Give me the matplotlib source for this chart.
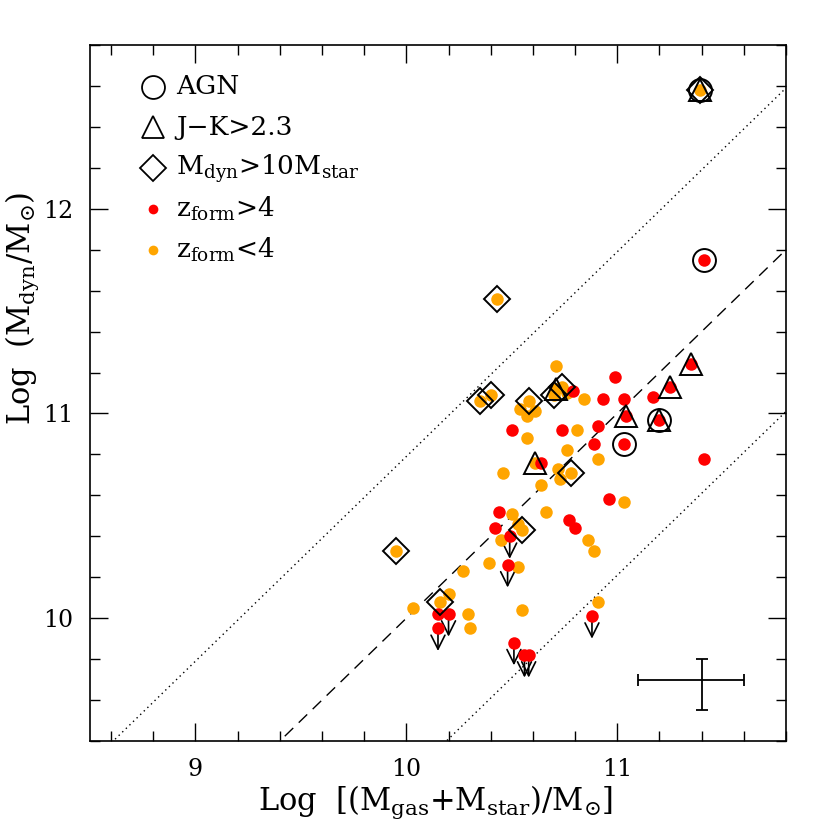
import matplotlib
matplotlib.use("Agg")
import matplotlib.pyplot as plt
from matplotlib.ticker import MultipleLocator

plt.rcParams['font.family'] = ['DejaVu Serif']
plt.rcParams['mathtext.fontset'] = 'dejavuserif'

# z_form > 4 (red)
red_x = [11.41, 10.99, 11.35, 11.25, 11.17, 11.03, 10.93, 10.79, 11.04, 11.20,
         10.91, 10.74, 10.50, 11.03, 10.89, 11.41, 10.64, 10.96, 10.44, 10.77,
         10.80, 10.42, 10.49, 10.48, 10.15, 10.20, 10.15, 10.88, 10.51, 10.56, 10.58]
red_y = [11.75, 11.18, 11.24, 11.13, 11.08, 11.07, 11.07, 11.11, 10.99, 10.97,
         10.94, 10.92, 10.92, 10.85, 10.85, 10.78, 10.76, 10.58, 10.52, 10.48,
         10.44, 10.44, 10.40, 10.26, 10.02, 10.02, 9.95, 10.01, 9.88, 9.82, 9.82]
red_ul = [0, 0, 0, 0, 0, 0, 0, 0, 0, 0,
          0, 0, 0, 0, 0, 0, 0, 0, 0, 0,
          0, 0, 1, 1, 0, 1, 1, 1, 1, 1, 1]

# z_form < 4 (orange)
org_x = [11.39, 10.43, 10.71, 10.35, 10.40, 10.58, 10.54, 10.57, 10.61, 10.70,
         10.74, 10.76, 10.71, 10.84, 10.81, 10.57, 10.76, 10.91, 10.61, 10.46,
         10.72, 10.73, 10.78, 10.64, 11.03, 10.66, 10.50, 10.53, 10.55, 10.45,
         10.86, 10.89, 9.95, 10.39, 10.53, 10.27, 10.20, 10.16, 10.03, 10.29,
         10.30, 10.55, 10.91]
org_y = [12.58, 11.56, 11.23, 11.06, 11.09, 11.06, 11.02, 10.99, 11.01, 11.09,
         11.13, 11.10, 11.12, 11.07, 10.92, 10.88, 10.82, 10.78, 10.76, 10.71,
         10.73, 10.68, 10.71, 10.65, 10.57, 10.52, 10.51, 10.46, 10.43, 10.38,
         10.38, 10.33, 10.33, 10.27, 10.25, 10.23, 10.12, 10.08, 10.05, 10.02,
         9.95, 10.04, 10.08]

# flagged objects (open symbols)
agn_x = [11.41, 11.20, 11.03, 11.39]
agn_y = [11.75, 10.97, 10.85, 12.58]
jk_x = [11.35, 11.25, 11.04, 11.20, 11.39, 10.71, 10.61]
jk_y = [11.24, 11.13, 10.99, 10.97, 12.58, 11.12, 10.76]
dyn_x = [11.39, 10.43, 10.35, 10.40, 10.58, 10.70, 10.74, 10.78, 10.55, 9.95, 10.16]
dyn_y = [12.58, 11.56, 11.06, 11.09, 11.06, 11.09, 11.13, 10.71, 10.43, 10.33, 10.08]

# typical error bar
err_x, err_y = 11.4, 9.7
err_xlo, err_xhi = 0.3, 0.2
err_ylo, err_yhi = 0.15, 0.10

xlim = (8.5, 11.8)
ylim = (9.4, 12.8)

fig = plt.figure(figsize=(8.3, 8.3), dpi=100)
ax = fig.add_axes([0.1084, 0.1072, 0.8386, 0.8386])

# reference lines
lx = [xlim[0], xlim[1]]
ax.plot(lx, [v for v in lx], color='black', lw=1.0, dashes=(8.5, 5.5))
ax.plot(lx, [v + 0.79 for v in lx], color='black', lw=1.0, dashes=(1, 2.6))
ax.plot(lx, [v - 0.79 for v in lx], color='black', lw=1.0, dashes=(1, 2.6))

# upper limit arrows
for x, y, u in zip(red_x, red_y, red_ul):
    if u:
        ax.annotate('', xy=(x, y - 0.11), xytext=(x, y),
                    arrowprops=dict(arrowstyle='->,head_length=0.4,head_width=0.2',
                                    lw=1.2, color='black', shrinkA=0, shrinkB=0,
                                    mutation_scale=25))

ax.plot(org_x, org_y, 'o', color='orange', ms=9, mec='none', zorder=3)
ax.plot(red_x, red_y, 'o', color='red', ms=9, mec='none', zorder=3)

ax.plot(agn_x, agn_y, 'o', mfc='none', mec='black', ms=16.5, mew=1.4, zorder=4)
ax.plot(jk_x, jk_y, '^', mfc='none', mec='black', ms=16, mew=1.4, zorder=4)
ax.plot(dyn_x, dyn_y, 'D', mfc='none', mec='black', ms=13.5, mew=1.4, zorder=4)

ax.errorbar([err_x], [err_y], xerr=[[err_xlo], [err_xhi]], yerr=[[err_ylo], [err_yhi]],
            fmt='none', ecolor='black', elinewidth=1.3, capsize=4.5, capthick=1.3)

# legend built by hand
leg_y = [0.9397, 0.882, 0.823, 0.764, 0.705]
leg_txt = ['AGN', 'J\u2212K>2.3', r'M$_{\rm dyn}$>10M$_{\rm star}$',
           r'z$_{\rm form}$>4', r'z$_{\rm form}$<4']
mx, tx = 0.090, 0.124
ax.plot(mx, leg_y[0], 'o', mfc='none', mec='black', ms=16.5, mew=1.3, transform=ax.transAxes)
ax.plot(mx, leg_y[1], '^', mfc='none', mec='black', ms=16, mew=1.3, transform=ax.transAxes)
ax.plot(mx, leg_y[2], 'D', mfc='none', mec='black', ms=13.5, mew=1.3, transform=ax.transAxes)
ax.plot(mx, leg_y[3], 'o', color='red', ms=7, mec='none', transform=ax.transAxes)
ax.plot(mx, leg_y[4], 'o', color='orange', ms=7, mec='none', transform=ax.transAxes)
for yy, t in zip(leg_y, leg_txt):
    ax.text(tx, yy, t, transform=ax.transAxes, fontsize=19, va='center', ha='left')

ax.set_xlim(*xlim)
ax.set_ylim(*ylim)
ax.xaxis.set_major_locator(MultipleLocator(1))
ax.xaxis.set_minor_locator(MultipleLocator(0.2))
ax.yaxis.set_major_locator(MultipleLocator(1))
ax.yaxis.set_minor_locator(MultipleLocator(0.2))
ax.tick_params(which='both', direction='in', top=True, right=True, width=1.0)
ax.tick_params(which='major', length=13, labelsize=17, pad=12)
ax.tick_params(which='minor', length=7)
for s in ax.spines.values():
    s.set_linewidth(1.2)

ax.set_xlabel(r'Log  [(M$_{\rm gas}$+M$_{\rm star}$)/M$_{\odot}$]', fontsize=22)
ax.set_ylabel(r'Log  (M$_{\rm dyn}$/M$_{\odot}$)', fontsize=22)
ax.xaxis.set_label_coords(0.496, -0.062)
ax.yaxis.set_label_coords(-0.07, 0.622)

fig.savefig('out.png', dpi=100)
